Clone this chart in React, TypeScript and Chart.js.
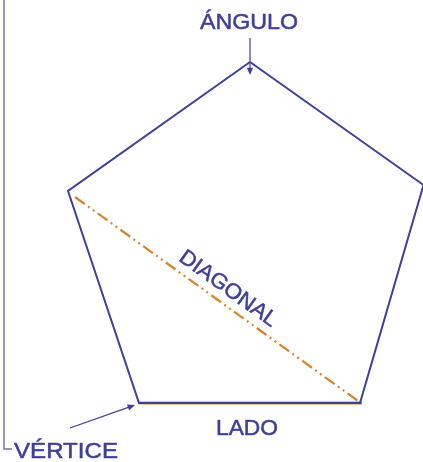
import React, { useEffect, useRef } from "react";
import { Chart, registerables } from "chart.js";

Chart.register(...registerables);

// Pentagon vertices (top, right, bottom-right, bottom-left, left, back to top)
const pentagonX = [250, 423.5, 360, 139, 68, 250];
const pentagonY = [62, 185, 403, 403, 191, 62];

// Side ("LADO")
const sideX = [139, 362];
const sideY = [403, 403];

// Diagonal
const diagonalX = [75, 358];
const diagonalY = [197, 401];

// Frame on the left
const frameX = [4, 4, 12];
const frameY = [0, 449, 449];

// Arrows: [fromX, fromY, toX, toY]
const arrowAngle = [250, 38, 250, 75];
const arrowVertex = [70, 428, 135, 405];

// Labels
const labelTexts = ["ÁNGULO", "VÉRTICE", "LADO", "DIAGONAL"];
const labelX = [249, 66, 247, 228];
const labelY = [23, 452, 429, 289];

const BLUE = "#3f3f9b";
const ORANGE = "#d8842c";

function pts(xs: number[], ys: number[]) {
  return xs.map((x, i) => ({ x, y: ys[i] }));
}

const annotPlugin = {
  id: "annot",
  afterDatasetsDraw(chart: any) {
    const { ctx, scales } = chart;
    const sx = (v: number) => scales.x.getPixelForValue(v);
    const sy = (v: number) => scales.y.getPixelForValue(v);

    const drawArrow = (a: number[], w: number, head: number) => {
      const x1 = sx(a[0]), y1 = sy(a[1]), x2 = sx(a[2]), y2 = sy(a[3]);
      const ang = Math.atan2(y2 - y1, x2 - x1);
      ctx.save();
      ctx.strokeStyle = BLUE;
      ctx.fillStyle = BLUE;
      ctx.lineWidth = w;
      ctx.beginPath();
      ctx.moveTo(x1, y1);
      ctx.lineTo(x2 - Math.cos(ang) * head * 0.8, y2 - Math.sin(ang) * head * 0.8);
      ctx.stroke();
      ctx.beginPath();
      ctx.moveTo(x2, y2);
      ctx.lineTo(x2 - Math.cos(ang - 0.4) * head, y2 - Math.sin(ang - 0.4) * head);
      ctx.lineTo(x2 - Math.cos(ang + 0.4) * head, y2 - Math.sin(ang + 0.4) * head);
      ctx.closePath();
      ctx.fill();
      ctx.restore();
    };
    drawArrow(arrowAngle, 1.2, 8);
    drawArrow(arrowVertex, 1.2, 8);

    const rot = Math.atan2(
      sy(diagonalY[1]) - sy(diagonalY[0]),
      sx(diagonalX[1]) - sx(diagonalX[0])
    );
    const stretch = [1.08, 1.12, 1.06, 1.04];
    labelTexts.forEach((t, i) => {
      ctx.save();
      ctx.translate(sx(labelX[i]), sy(labelY[i]));
      if (i === 3) ctx.rotate(rot);
      ctx.scale(stretch[i], 1);
      ctx.font = `21.5px "Liberation Sans", Arial, sans-serif`;
      ctx.fillStyle = BLUE;
      ctx.strokeStyle = BLUE;
      ctx.lineWidth = 0.5;
      ctx.textAlign = "center";
      ctx.textBaseline = "middle";
      ctx.fillText(t, 0, 0);
      ctx.strokeText(t, 0, 0);
      ctx.restore();
    });
  },
};

export default function App() {
  const ref = useRef<HTMLCanvasElement>(null);
  useEffect(() => {
    document.body.style.margin = "0";
    const chart = new Chart(ref.current!, {
      type: "scatter",
      data: {
        datasets: [
          {
            label: "Marco",
            data: pts(frameX, frameY),
            showLine: true,
            borderColor: "#77779a",
            borderWidth: 1.5,
            pointRadius: 0,
            clip: false as any,
          },
          {
            label: "Pentágono",
            data: pts(pentagonX, pentagonY),
            showLine: true,
            borderColor: BLUE,
            borderWidth: 2,
            pointRadius: 0,
            clip: false as any,
          },
          {
            label: "Diagonal",
            data: pts(diagonalX, diagonalY),
            showLine: true,
            borderColor: ORANGE,
            borderWidth: 2.2,
            borderDash: [12, 4, 2, 4, 2, 4],
            pointRadius: 0,
            clip: false as any,
          },
          {
            label: "Lado",
            data: pts(sideX, sideY),
            showLine: true,
            borderColor: ORANGE,
            borderWidth: 3,
            pointRadius: 0,
            clip: false as any,
          },
        ],
      },
      options: {
        animation: false,
        responsive: true,
        maintainAspectRatio: false,
        layout: { padding: 0 },
        plugins: { legend: { display: false }, tooltip: { enabled: false } },
        scales: {
          x: { type: "linear", min: 0, max: 423, display: false },
          y: { type: "linear", min: 0, max: 462, reverse: true, display: false },
        },
      },
      plugins: [annotPlugin],
    });
    return () => chart.destroy();
  }, []);
  return (
    <div style={{ position: "relative", width: 423, height: 462, background: "#fff" }}>
      <canvas ref={ref} />
    </div>
  );
}
